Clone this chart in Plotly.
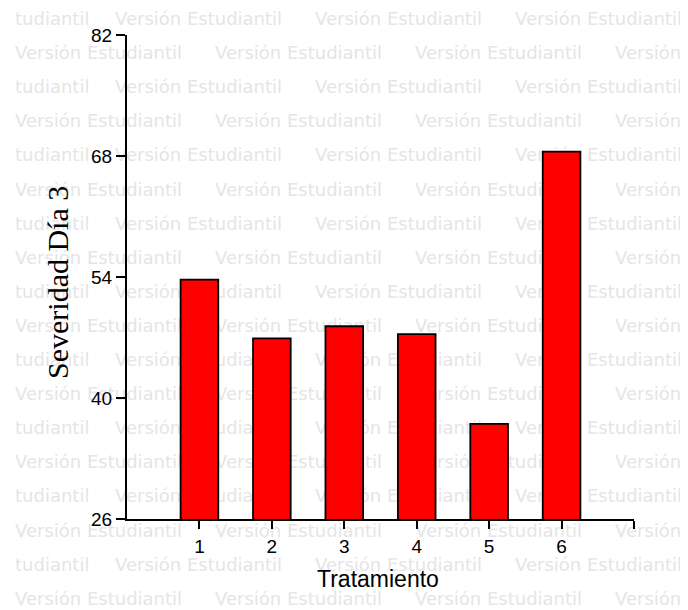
import plotly.graph_objects as go

# Data
tratamientos = [1, 2, 3, 4, 5, 6]
severidad = [53.7, 46.9, 48.3, 47.4, 37.0, 68.5]
y_ticks = [26, 40, 54, 68, 82]
x_ticks = [1, 2, 3, 4, 5, 6, 7]
x_ticktext = ["1", "2", "3", "4", "5", "6", ""]

W, H = 688, 610
OFF = 8  # page body margin offset
L, R, T, B = 127 - OFF, 634 - OFF, 35 - OFF, 519 - OFF

# Watermark (background decoration, pixel space)
wm_x, wm_y, wm_t = [], [], []
for row in range(18):
    yy = 20.5 - OFF + row * 34.1
    if row % 2 == 0:
        items = [(15, "tudiantil"), (115, "Versión Estudiantil"), (315, "Versión Estudiantil"), (515, "Versión Estudiantil")]
    else:
        items = [(15, "Versión Estudiantil"), (215, "Versión Estudiantil"), (415, "Versión Estudiantil"), (615, "Versión")]
    for xx, tt in items:
        wm_x.append(xx - OFF); wm_y.append(yy); wm_t.append(tt)

fig = go.Figure()

fig.add_trace(go.Scatter(
    x=wm_x, y=wm_y, mode="text", text=wm_t,
    textposition="middle right",
    textfont=dict(family="DejaVu Sans", size=18, color="#e5e5e5"),
    hoverinfo="skip", showlegend=False, xaxis="x", yaxis="y", cliponaxis=False,
))

fig.add_trace(go.Bar(
    x=tratamientos, y=severidad, width=0.52,
    marker=dict(color="#ff0000", line=dict(color="black", width=1.8)),
    showlegend=False, xaxis="x2", yaxis="y2",
))

axis_font = dict(family="Arial, Liberation Sans", size=19, color="black")

fig.update_layout(
    width=W, height=H,
    margin=dict(l=0, r=0, t=0, b=0, pad=0, autoexpand=False),
    font=axis_font,
    paper_bgcolor="white", plot_bgcolor="rgba(0,0,0,0)",
    xaxis=dict(domain=[0, 1], range=[0, W], visible=False, fixedrange=True, automargin=False),
    yaxis=dict(domain=[0, 1], range=[H, 0], visible=False, fixedrange=True, automargin=False),
    xaxis2=dict(
        domain=[L / W, R / W], anchor="y2", range=[0, 7],
        tickvals=x_ticks, ticktext=x_ticktext, automargin=False,
        ticks="outside", ticklen=8, tickwidth=2, tickcolor="black",
        showline=True, linecolor="black", linewidth=2, ticklabelstandoff=1,
        showgrid=False, zeroline=False, tickfont=axis_font,
    ),
    yaxis2=dict(
        domain=[1 - B / H, 1 - T / H], anchor="x2", range=[26, 82],
        tickvals=y_ticks, automargin=False,
        ticks="outside", ticklen=9, tickwidth=2, tickcolor="black",
        showline=True, linecolor="black", linewidth=2,
        showgrid=False, zeroline=False, tickfont=axis_font,
    ),
    annotations=[
        dict(text="Tratamiento", x=(378 - OFF) / W, y=1 - (579 - OFF) / H, xref="paper", yref="paper",
             showarrow=False, xanchor="center", yanchor="middle",
             font=dict(family="Arial, Liberation Sans", size=23, color="black")),
        dict(text="Severidad Día 3", x=(58 - OFF) / W, y=1 - (283 - OFF) / H, xref="paper", yref="paper",
             showarrow=False, xanchor="center", yanchor="middle", textangle=-90,
             font=dict(family="Liberation Serif, Times New Roman", size=30, color="black")),
    ],
)

fig.write_html("out.html")
